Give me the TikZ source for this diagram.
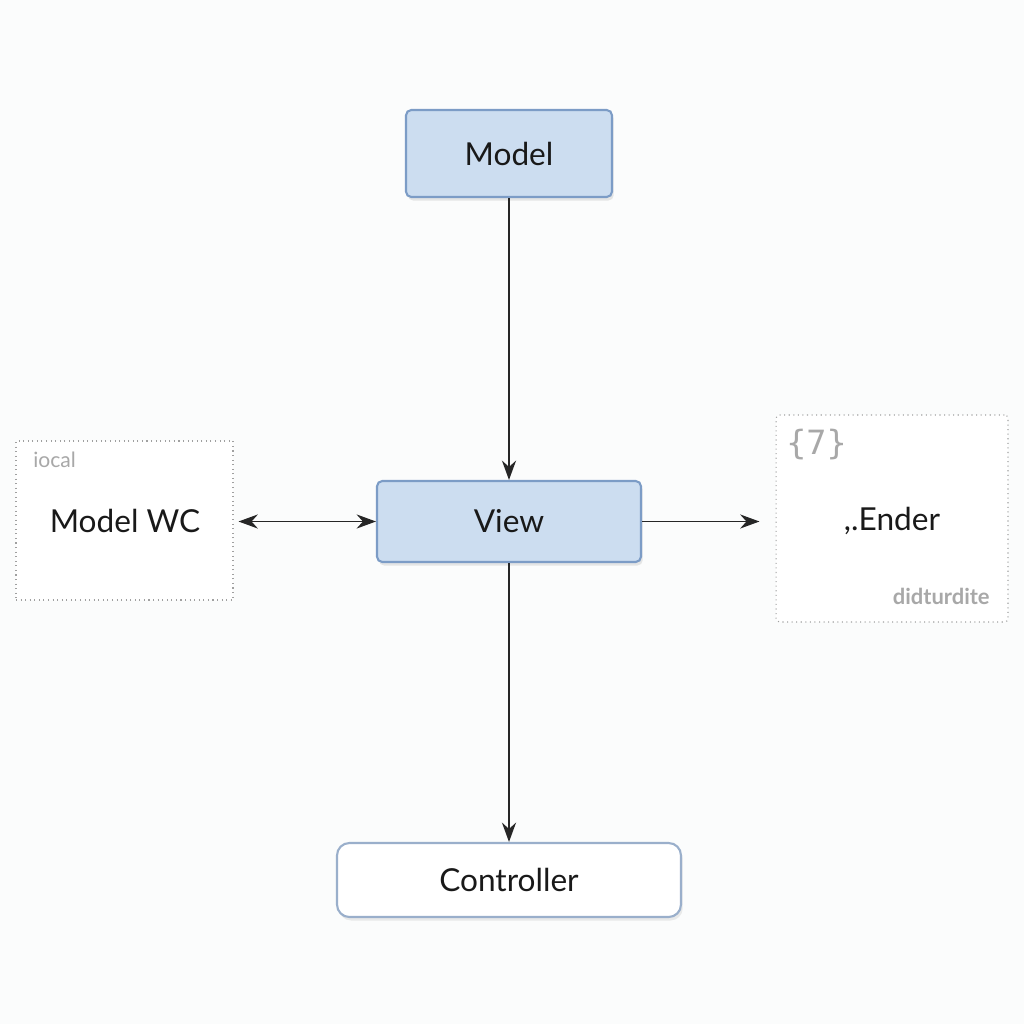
\documentclass[tikz,border=0pt]{standalone}
\usepackage{fontspec}
\setmainfont{Lato}
\setmonofont{DejaVu Sans Mono}
\usetikzlibrary{arrows.meta,shadows}
\definecolor{boxfill}{HTML}{CCDDF0}
\definecolor{boxline}{HTML}{7C9CC6}
\definecolor{ctrlline}{HTML}{9AAFCB}
\definecolor{dotline}{HTML}{A0A0A0}
\definecolor{graytxt}{HTML}{A8A8A8}
\definecolor{bg}{HTML}{FBFCFC}
\tikzset{
  bluebox/.style={draw=boxline, fill=boxfill, line width=1.2pt, rounded corners=3pt,
    drop shadow={shadow xshift=1pt, shadow yshift=-2pt, opacity=0.18}, inner sep=0pt},
  whitebox/.style={draw=ctrlline, fill=white, line width=1.2pt, rounded corners=7pt,
    drop shadow={shadow xshift=1pt, shadow yshift=-2pt, opacity=0.15}, inner sep=0pt},
  dotbox/.style={draw=dotline, dotted, line width=0.6pt, fill=white, inner sep=0pt},
  tip/.tip={Stealth[length=11pt,width=8pt]},
  conn/.style={line width=1.1pt, draw=black!85, -tip},
  lbl/.style={font=\fontsize{18}{20}\selectfont, text=black!90},
  small/.style={font=\fontsize{12}{14}\selectfont, text=graytxt, inner sep=0pt},
}
\begin{document}
\begin{tikzpicture}[x=0.02cm,y=-0.02cm]
\useasboundingbox (0,0) rectangle (1024,1024);
\fill[bg] (0,0) rectangle (1024,1024);
% side boxes
\node[dotbox, minimum width=4.34cm, minimum height=3.18cm] (lbox) at (124.5,520.5) {};
\node[dotbox, rounded corners=2pt, minimum width=4.64cm, minimum height=4.14cm] (rbox) at (892,518.5) {};
\node[lbl] (lboxtxt) at (125,521) {Model WC};
\node[lbl] (rboxtxt) at (892,521) {,.Ender};
\node[small, anchor=west] (iocal) at (33,460) {iocal};
\node[small, font=\ttfamily\fontsize{19}{20}\selectfont, anchor=west] (seven) at (786,445) {\{7\}};
\node[small, font=\bfseries\fontsize{12.5}{14}\selectfont, anchor=east] (didt) at (990,596) {didturdite};
% main boxes
\node[bluebox, lbl, minimum width=4.12cm, minimum height=1.74cm] (model) at (509,153.5) {Model};
\node[bluebox, lbl, minimum width=5.28cm, minimum height=1.62cm] (view) at (509,521.5) {View};
\node[whitebox, lbl, minimum width=6.88cm, minimum height=1.48cm] (ctrl) at (509,880) {Controller};
% connectors
\draw[conn] (model.south) -- (view.north);
\draw[conn] (view.south) -- (ctrl.north);
\draw[conn] (view.east) -- ([xshift=-0.32cm]view.east -| rbox.west);
\draw[conn, tip-tip] ([xshift=0.1cm]view.west -| lbox.east) -- (view.west);
\end{tikzpicture}
\end{document}
